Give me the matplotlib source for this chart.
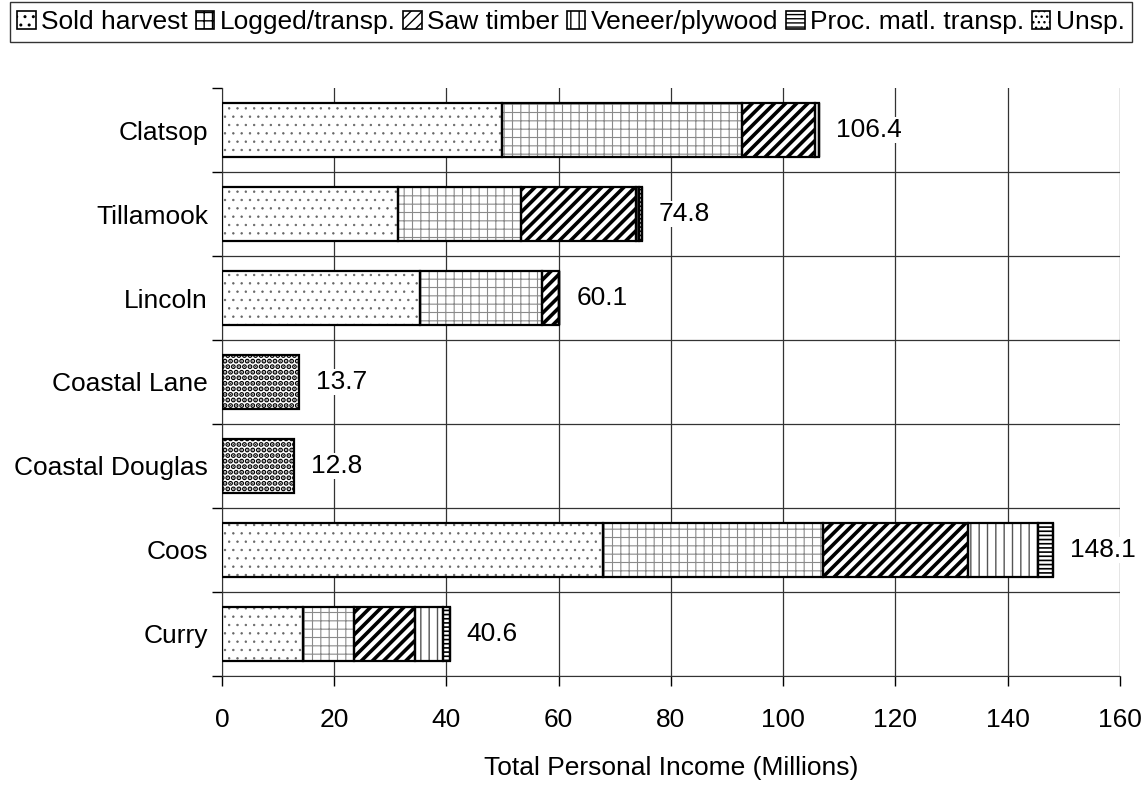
import matplotlib
matplotlib.use('Agg')
import matplotlib.pyplot as plt
from matplotlib.patches import Patch
import numpy as np

plt.rcParams['font.family'] = ['Liberation Sans', 'DejaVu Sans']
plt.rcParams['hatch.linewidth'] = 1.0

counties = ['Clatsop', 'Tillamook', 'Lincoln', 'Coastal Lane', 'Coastal Douglas', 'Coos', 'Curry']
sold_harvest = [49.9, 31.3, 35.3, 0, 0, 67.9, 14.4]
logged = [42.8, 22.0, 21.7, 0, 0, 39.2, 9.2]
saw_timber = [13.0, 20.4, 3.1, 0, 0, 25.8, 10.8]
veneer = [0.7, 0.6, 0, 0, 0, 12.5, 5.0]
proc_transp = [0, 0.5, 0, 0, 0, 2.7, 1.2]
unsp = [0, 0, 0, 13.7, 12.8, 0, 0]
totals = [106.4, 74.8, 60.1, 13.7, 12.8, 148.1, 40.6]

# name, values, hatch, hatch colour, hatch linewidth
series = [
    ('Sold harvest', sold_harvest, '..', '#666666', 0.5),
    ('Logged/transp.', logged, '++', '#8a8a8a', 0.8),
    ('Saw timber', saw_timber, '///', 'black', 2.6),
    ('Veneer/plywood', veneer, '||', '#555555', 1.0),
    ('Proc. matl. transp.', proc_transp, '----', 'black', 1.2),
    ('Unsp.', unsp, '...', 'black', 2.6),
]

fs = 19.0

fig = plt.figure(figsize=(11.42, 7.86), dpi=100)
ax = fig.add_axes([0.1944, 0.140, 0.7863, 0.748])

y = np.arange(len(counties))
left = np.zeros(len(counties))
handles = []
for name, vals, hatch, hc, hlw in series:
    vals = np.array(vals)
    with plt.rc_context({'hatch.linewidth': hlw}):
        bars = ax.barh(y, vals, left=left, height=0.64, color='white', edgecolor=hc,
                       hatch=hatch, linewidth=0, zorder=2)
        for b in bars:
            if hasattr(b, 'set_hatch_linewidth'):
                b.set_hatch_linewidth(hlw)
        h = Patch(facecolor='white', edgecolor='black', hatch=hatch, linewidth=1.2)
        if hasattr(h, 'set_hatch_linewidth'):
            h.set_hatch_linewidth(min(hlw, 1.2))
    ax.barh(y, vals, left=left, height=0.64, fill=False, edgecolor='black',
            linewidth=1.6, zorder=3)
    left += vals
    handles.append(h)

for yi, t in zip(y, totals):
    ax.text(t + 3.0, yi, f'{t:.1f}', va='center', ha='left', fontsize=fs,
            bbox=dict(facecolor='white', edgecolor='none', pad=1), zorder=4)

ax.set_xlim(0, 160)
ax.set_ylim(6.5, -0.5)
ax.set_xticks(np.arange(0, 161, 20))
ax.set_yticks(y)
ax.set_yticklabels(counties)
ax.set_yticks(np.arange(-0.5, 7, 1), minor=True)
ax.tick_params(axis='y', which='major', length=0, pad=10, labelsize=fs)
ax.tick_params(axis='y', which='minor', length=7, width=1)
ax.tick_params(axis='x', length=7, width=1, pad=16, labelsize=fs)
ax.xaxis.grid(True, color='#333333', linewidth=0.9, zorder=0)
for b in np.arange(0.5, 6.6, 1):
    ax.axhline(b, color='#333333', linewidth=0.9, zorder=0)
ax.set_axisbelow(True)
for s in ['top', 'right']:
    ax.spines[s].set_visible(False)
ax.spines['left'].set_color('#333333')
ax.spines['bottom'].set_color('#333333')
ax.set_xlabel('Total Personal Income (Millions)', fontsize=fs, labelpad=17)

leg = fig.legend(handles, [s[0] for s in series], loc='upper center',
                 bbox_to_anchor=(0.5, 0.997), ncol=6, fontsize=fs, frameon=True,
                 fancybox=False, edgecolor='black', handlelength=0.7, handleheight=0.7,
                 handletextpad=0.2, columnspacing=0.3, borderpad=0.3,
                 borderaxespad=0)
leg.get_frame().set_linewidth(1.0)

fig.savefig('out.png', dpi=100)
